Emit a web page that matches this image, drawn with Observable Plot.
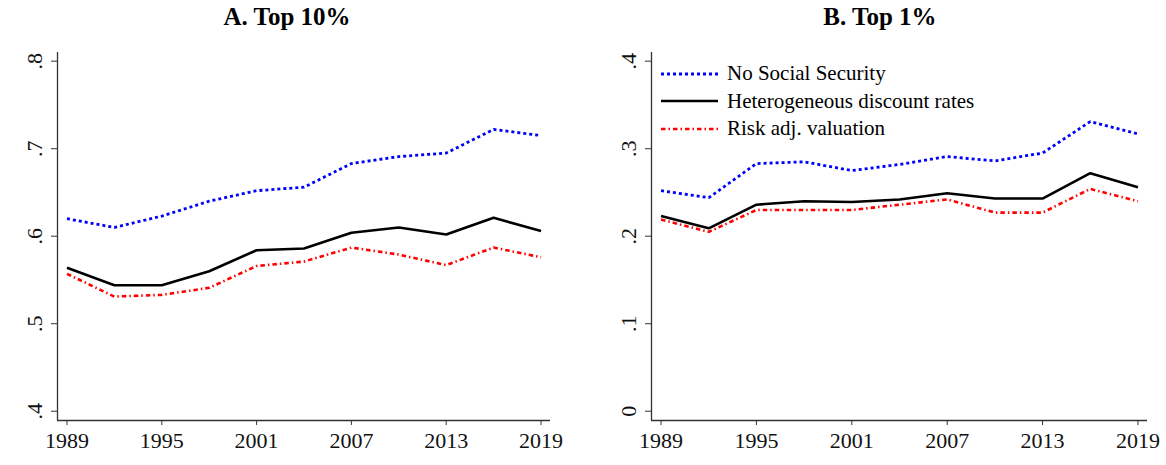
<!DOCTYPE html>
<html>
<head>
<meta charset="utf-8">
<script src="https://cdn.jsdelivr.net/npm/d3@7"></script>
<script src="https://cdn.jsdelivr.net/npm/@observablehq/plot@0.6"></script>
<style>
  html, body { margin: 0; padding: 0; background: #fff; }
  #wrap { position: relative; width: 1166px; height: 465px; font-family: "Liberation Serif", "Times New Roman", serif; }
  .panel { position: absolute; top: 0; }
  .title { position: absolute; top: 3px; font-weight: bold; font-size: 25px; text-align: center; white-space: nowrap; transform: translateX(-50%); }
  #legend { position: absolute; left: 661px; top: 60px; font-size: 21px; }
  #legend .row { display: flex; align-items: center; height: 27.5px; }
  #legend svg { margin-right: 9px; }
</style>
</head>
<body>
<div id="wrap"></div>
<script>
// Survey years
const years = [1989, 1992, 1995, 1998, 2001, 2004, 2007, 2010, 2013, 2016, 2019];

// Panel A: top 10% share
const top10NoSS  = [0.620, 0.610, 0.623, 0.640, 0.652, 0.656, 0.683, 0.691, 0.695, 0.722, 0.715];
const top10Het   = [0.564, 0.544, 0.544, 0.560, 0.584, 0.586, 0.604, 0.610, 0.602, 0.621, 0.606];
const top10Risk  = [0.557, 0.531, 0.533, 0.541, 0.566, 0.571, 0.587, 0.579, 0.567, 0.587, 0.576];

// Panel B: top 1% share
const top1NoSS   = [0.252, 0.244, 0.283, 0.285, 0.275, 0.282, 0.291, 0.286, 0.295, 0.331, 0.317];
const top1Het    = [0.223, 0.209, 0.236, 0.240, 0.239, 0.242, 0.249, 0.243, 0.243, 0.272, 0.256];
const top1Risk   = [0.219, 0.205, 0.230, 0.230, 0.230, 0.236, 0.242, 0.227, 0.227, 0.254, 0.240];

const xTicks = [1989, 1995, 2001, 2007, 2013, 2019];
const yTicksA = [0.4, 0.5, 0.6, 0.7, 0.8];
const yTicksB = [0, 0.1, 0.2, 0.3, 0.4];

const seriesNames = ["No Social Security", "Heterogeneous discount rates", "Risk adj. valuation"];
const seriesStyles = [
  {stroke: "#0000ff", strokeWidth: 2.8, dash: "3,3"},
  {stroke: "#000000", strokeWidth: 2.6, dash: null},
  {stroke: "#ff0000", strokeWidth: 2.6, dash: "4.5,3,1.5,3"}
];

const fmt = d => d === 0 ? "0" : d3.format(".1f")(d).replace(/^0/, "");

function rows(seriesValues) {
  const out = [];
  seriesValues.forEach((vals, i) => vals.forEach((v, j) => out.push({series: i, year: years[j], value: v})));
  return out;
}

function panel({values, yTicks, marginLeft, marginRight, width}) {
  const data = rows(values);
  const xDom = [years[0] - 0.6, years[years.length - 1] + 0.6];
  const yPadLo = (yTicks[yTicks.length - 1] - yTicks[0]) * 0.0265;
  const yPadHi = (yTicks[yTicks.length - 1] - yTicks[0]) * 0.0248;
  const yDom = [yTicks[0] - yPadLo, yTicks[yTicks.length - 1] + yPadHi];
  const lines = seriesStyles.map((s, i) => Plot.line(data.filter(d => d.series === i), {
    x: "year", y: "value",
    stroke: s.stroke, strokeWidth: s.strokeWidth,
    strokeDasharray: s.dash ?? undefined,
    strokeLinejoin: "miter", strokeLinecap: "butt"
  }));
  return Plot.plot({
    width, height: 465,
    marginLeft, marginRight, marginTop: 52, marginBottom: 45,
    style: {fontFamily: "Liberation Serif, Times New Roman, serif", fontSize: "22px", color: "#111", background: "#fff"},
    x: {domain: xDom},
    y: {domain: yDom},
    marks: [
      Plot.axisX({ticks: xTicks, tickFormat: d => String(d), tickSize: 5, tickPadding: 7, label: null, stroke: "#333", fontSize: 22}),
      Plot.axisY({ticks: yTicks, tickFormat: fmt, tickSize: 6, tickPadding: 10, tickRotate: -90, label: null, stroke: "#333", fontSize: 22}),
      Plot.ruleX([xDom[0]], {stroke: "#333", strokeWidth: 1.3}),
      Plot.ruleY([yDom[0]], {stroke: "#333", strokeWidth: 1.3}),
      ...lines
    ]
  });
}

const wrap = document.getElementById("wrap");

const plotA = panel({values: [top10NoSS, top10Het, top10Risk], yTicks: yTicksA, marginLeft: 57, marginRight: 33, width: 583});
plotA.classList.add("panel");
plotA.style.left = "0px";
wrap.appendChild(plotA);

const plotB = panel({values: [top1NoSS, top1Het, top1Risk], yTicks: yTicksB, marginLeft: 68, marginRight: 19, width: 583});
plotB.classList.add("panel");
plotB.style.left = "583px";
wrap.appendChild(plotB);

// Panel titles
[["A. Top 10%", 287], ["B. Top 1%", 880]].forEach(([t, cx]) => {
  const d = document.createElement("div");
  d.className = "title";
  d.textContent = t;
  d.style.left = cx + "px";
  wrap.appendChild(d);
});

// Legend inside panel B
const legend = d3.select(wrap).append("div").attr("id", "legend");
seriesNames.forEach((name, i) => {
  const s = seriesStyles[i];
  const row = legend.append("div").attr("class", "row");
  const sw = row.append("svg").attr("width", 57).attr("height", 10);
  sw.append("line").attr("x1", 0).attr("x2", 57).attr("y1", 5).attr("y2", 5)
    .attr("stroke", s.stroke).attr("stroke-width", s.strokeWidth)
    .attr("stroke-dasharray", s.dash);
  row.append("span").text(name);
});
</script>
</body>
</html>
